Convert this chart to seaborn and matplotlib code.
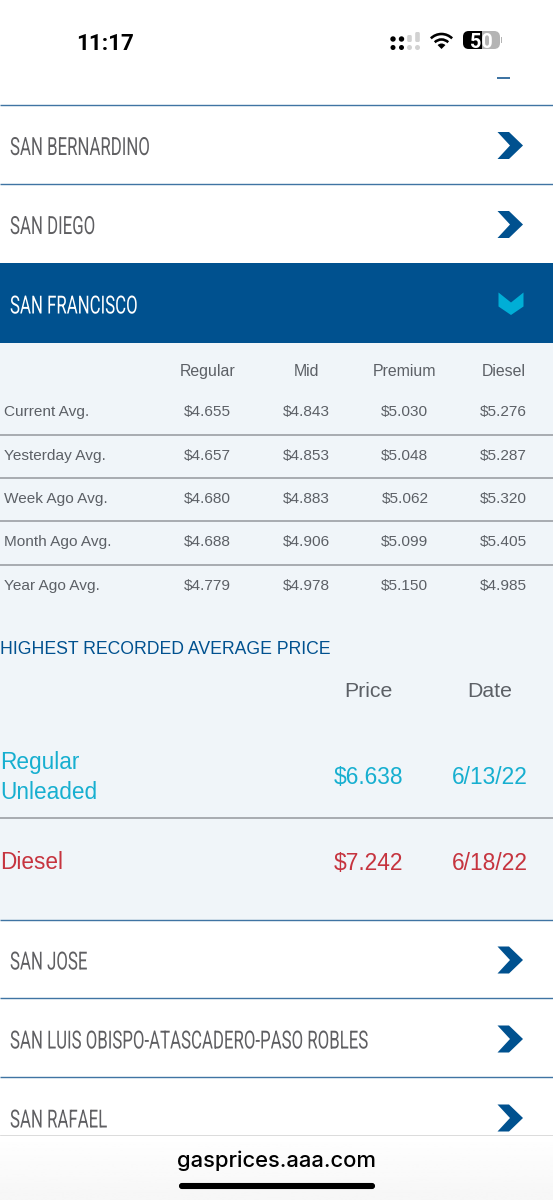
import numpy as np
import matplotlib
matplotlib.use("Agg")
import matplotlib.pyplot as plt
from matplotlib.colors import ListedColormap
from matplotlib.patches import Arc, Circle, FancyBboxPatch, Polygon, Rectangle, Wedge
from matplotlib.patheffects import AbstractPathEffect
from matplotlib.transforms import Affine2D
import seaborn as sns

# ---- content ----
fuel_types = ["Regular", "Mid", "Premium", "Diesel"]
periods = ["Current Avg.", "Yesterday Avg.", "Week Ago Avg.", "Month Ago Avg.", "Year Ago Avg."]
regular = [4.655, 4.657, 4.680, 4.688, 4.779]
mid = [4.843, 4.853, 4.883, 4.906, 4.978]
premium = [5.030, 5.048, 5.062, 5.099, 5.150]
diesel = [5.276, 5.287, 5.320, 5.405, 4.985]
top_regions = ["SAN BERNARDINO", "SAN DIEGO"]
open_region = "SAN FRANCISCO"
bottom_regions = ["SAN JOSE", "SAN LUIS OBISPO-ATASCADERO-PASO ROBLES", "SAN RAFAEL"]
record_title = "HIGHEST RECORDED AVERAGE PRICE"
record_headers = ["Price", "Date"]
record_labels = ["Regular\nUnleaded", "Diesel"]
record_prices = [6.638, 7.242]
record_dates = ["6/13/22", "6/18/22"]
clock = "11:17"
battery = "50"
site = "gasprices.aaa.com"

# ---- style ----
W, H = 553, 1200
NAVY, CYAN, RED = "#00518f", "#17afd0", "#c6343f"
PANEL, GREY_TXT, ROW_TXT = "#f0f5f9", "#5c6066", "#5f5f62"
RULE_BLUE, RULE_GREY = "#3f74a3", "#a9adb2"
px = 0.72  # points per pixel at dpi 100
sans = ["Liberation Sans", "DejaVu Sans"]
ui = ["Inter", "Roboto", "DejaVu Sans"]
bold_ui = ["Roboto", "DejaVu Sans"]


class Condense(AbstractPathEffect):
    """Narrows the glyphs of a real text artist horizontally about x0 (display px)."""

    def __init__(self, x0, sx):
        super().__init__()
        self.x0, self.sx = x0, sx

    def draw_path(self, renderer, gc, tpath, affine, rgbFace=None):
        a = affine + Affine2D().translate(-self.x0, 0).scale(self.sx, 1).translate(self.x0, 0)
        renderer.draw_path(gc, tpath, a, rgbFace)


sns.set_theme(style="white")
plt.rcParams["font.family"] = sans

fig = plt.figure(figsize=(W / 100, H / 100), dpi=100, facecolor="white")
ax = fig.add_axes([0, 0, 1, 1], zorder=0)
ax.set_xlim(0, W)
ax.set_ylim(H, 0)
ax.axis("off")

# page blocks
ax.add_patch(Rectangle((0, 263), W, 79.5, fc=NAVY, lw=0))
ax.add_patch(Rectangle((0, 342.5), W, 577, fc=PANEL, lw=0))
for y in [105, 183.5, 919.5, 998, 1077]:
    ax.plot([0, W], [y, y], color=RULE_BLUE, lw=1.4 * px, solid_capstyle="butt", zorder=3)


def chevron_right(cy):
    ax.add_patch(Polygon([(497.5, cy - 13.5), (509, cy - 13.5), (523, cy), (509, cy + 13.5),
                          (497.5, cy + 13.5), (510, cy)], fc=NAVY, lw=0, zorder=3))


def region(label, cy, color):
    ax.text(10, cy, label, family=["Roboto", "DejaVu Sans"], fontsize=25 * px, color=color,
            va="center_baseline", zorder=3, path_effects=[Condense(10, 0.672)])


for label, cy in zip(top_regions, [145.5, 224.5]):
    region(label, cy, ROW_TXT)
    chevron_right(cy)
for label, cy in zip(bottom_regions, [960, 1039, 1118]):
    region(label, cy, ROW_TXT)
    chevron_right(cy)
region(open_region, 304, "white")
ax.add_patch(Polygon([(498.5, 292.5), (511, 302.5), (523.5, 292.5), (523.5, 306.5), (511, 315), (498.5, 306.5)],
                     fc="#00aed6", lw=0))
ax.add_patch(Rectangle((497, 77), 13, 2, fc="#3f74a3", lw=0))

# price table
table = np.array([regular, mid, premium, diesel]).T
annot = np.array([[f"\\${v:.3f}" for v in row] for row in table])
left, right, top, bottom = 158, 553, 390.5, 607.5
hax = fig.add_axes([left / W, 1 - bottom / H, (right - left) / W, (bottom - top) / H], zorder=1)
sns.heatmap(table, ax=hax, cmap=ListedColormap([PANEL]), cbar=False, annot=annot, fmt="",
            annot_kws={"fontsize": 15.4 * px, "color": GREY_TXT, "family": sans},
            xticklabels=fuel_types, yticklabels=periods)
hax.xaxis.tick_top()
hax.tick_params(axis="x", length=0, pad=8, labelsize=15.9 * px, labelcolor=GREY_TXT)
hax.tick_params(axis="y", length=0, pad=(left - 4) * px, labelsize=15.4 * px, labelcolor=GREY_TXT, labelrotation=0)
for t in hax.get_yticklabels():
    t.set_ha("left")
for s in hax.spines.values():
    s.set_visible(False)

# overlay for rules and the record block
ov = fig.add_axes([0, 0, 1, 1], zorder=2)
ov.set_xlim(0, W)
ov.set_ylim(H, 0)
ov.axis("off")
ov.patch.set_alpha(0)
for y in [434.8, 477.8, 521.4, 564.8, 818]:
    ov.plot([0, W], [y, y], color=RULE_GREY, lw=2 * px, solid_capstyle="butt")

ov.text(0.5, 648, record_title, color=NAVY, fontsize=17.6 * px, va="center_baseline")
ov.text(368, 689.5, record_headers[0], color=GREY_TXT, fontsize=21.3 * px, ha="center", va="center_baseline")
ov.text(489.5, 689.5, record_headers[1], color=GREY_TXT, fontsize=21.3 * px, ha="center", va="center_baseline")
ov.text(0.5, 760, record_labels[0].split("\n")[0], color=CYAN, fontsize=22.6 * px, va="center_baseline")
ov.text(0.5, 790, record_labels[0].split("\n")[1], color=CYAN, fontsize=22.6 * px, va="center_baseline")
ov.text(0.5, 860, record_labels[1], color=RED, fontsize=22.6 * px, va="center_baseline")
for p, d, c, y in zip(record_prices, record_dates, [CYAN, RED], [775.5, 860.5]):
    ov.text(368.5, y, f"\\${p:.3f}", color=c, fontsize=22.8 * px, ha="center", va="center_baseline")
    ov.text(489.5, y, d, color=c, fontsize=22.8 * px, ha="center", va="center_baseline")

# bottom bar
ov.imshow(np.linspace(1, 0.965, 30).reshape(-1, 1), cmap="gray", vmin=0, vmax=1,
          extent=(0, W, 1200, 1134), aspect="auto", zorder=4)
ov.set_xlim(0, W)
ov.set_ylim(H, 0)
ov.plot([0, W], [1134.5, 1134.5], color="#dcdcdc", lw=1 * px, zorder=5)
ov.text(276.5, 1159, site, family=ui, fontweight="medium", fontsize=22 * px, color="black",
        ha="center", va="center_baseline", zorder=5)
ov.add_patch(FancyBboxPatch((180, 1184), 194, 4, boxstyle="round,pad=0,rounding_size=2",
                            fc="black", ec="black", lw=1.5, zorder=5))

# status bar
ov.text(105.5, 41, clock, family=bold_ui, fontweight="bold", fontsize=22.5 * px, color="black",
        ha="center", va="center_baseline")
for x, c in zip([393, 401.5, 409.5, 417.5], ["black", "black", "#d2d2d2", "#d2d2d2"]):
    ov.add_patch(Circle((x, 47.5), 2.5, fc=c, lw=0))
    if c == "black":
        ov.add_patch(Circle((x, 39), 2.7, fc=c, lw=0))
    else:
        h = 10 if x > 415 else 7
        ov.add_patch(FancyBboxPatch((x - 2.3, 42 - h), 4.6, h, boxstyle="round,pad=0,rounding_size=1.5", fc=c, lw=0))
for d in [30, 19]:
    ov.add_patch(Arc((441.5, 49), d, d, theta1=225, theta2=315, color="black", lw=2.6 * px))
ov.add_patch(Wedge((441.5, 49), 5.5, 225, 315, fc="black", lw=0))
ov.add_patch(FancyBboxPatch((463, 31), 37, 18, boxstyle="round,pad=0,rounding_size=6", fc="#b4b4b4", lw=0))
blk = FancyBboxPatch((463, 31), 37, 18, boxstyle="round,pad=0,rounding_size=6", fc="black", lw=0)
ov.add_patch(blk)
blk.set_clip_path(Rectangle((463, 31), 18.5, 18, transform=ov.transData))
ov.add_patch(Rectangle((500.5, 37), 1.5, 6, fc="#b4b4b4", lw=0))
ov.text(481, 40.5, battery, family=bold_ui, fontweight="bold", fontsize=20 * px, color="white",
        ha="center", va="center_baseline")

fig.savefig("out.png", dpi=100, facecolor="white")
